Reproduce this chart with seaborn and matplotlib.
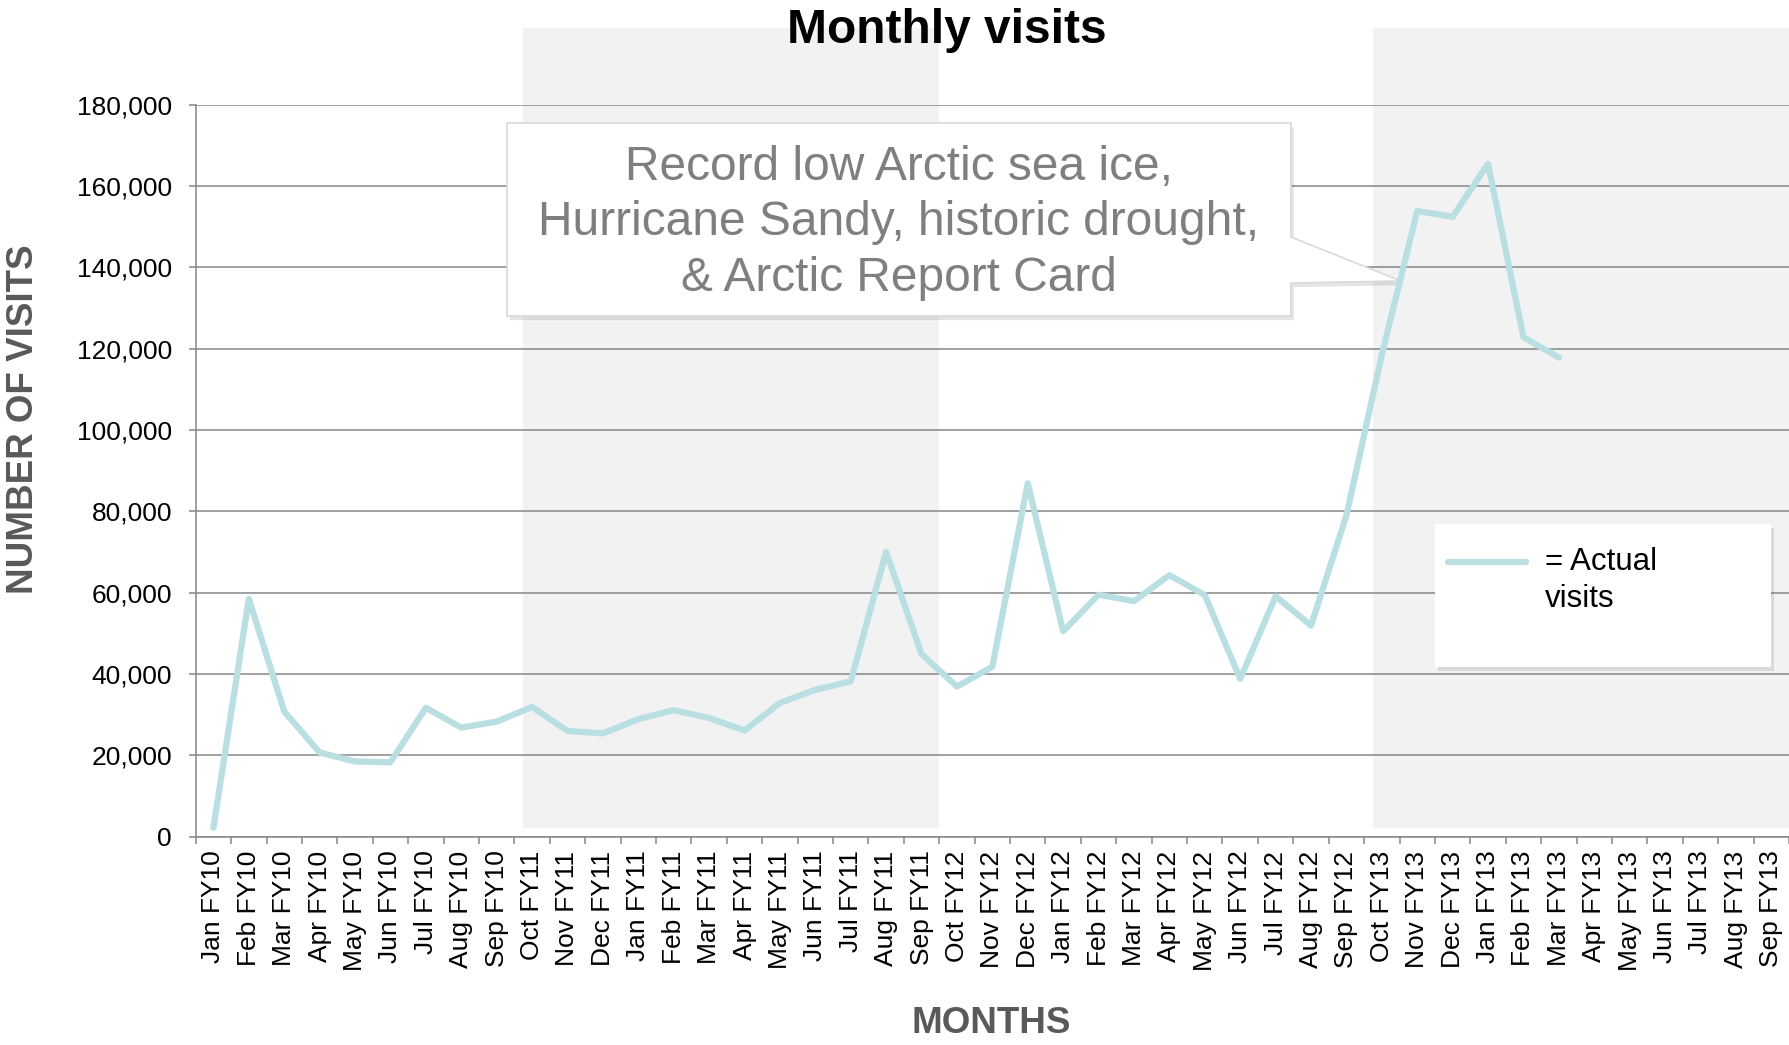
import numpy as np
import pandas as pd
import matplotlib.pyplot as plt
import seaborn as sns
from matplotlib import patheffects
from matplotlib.patches import Polygon, Rectangle
from matplotlib.transforms import blended_transform_factory
from matplotlib.ticker import FuncFormatter

# month labels on the x axis (FY runs Oct - Sep)
month_labels = [
    'Jan FY10', 'Feb FY10', 'Mar FY10', 'Apr FY10', 'May FY10', 'Jun FY10',
    'Jul FY10', 'Aug FY10', 'Sep FY10',
    'Oct FY11', 'Nov FY11', 'Dec FY11', 'Jan FY11', 'Feb FY11', 'Mar FY11',
    'Apr FY11', 'May FY11', 'Jun FY11', 'Jul FY11', 'Aug FY11', 'Sep FY11',
    'Oct FY12', 'Nov FY12', 'Dec FY12', 'Jan FY12', 'Feb FY12', 'Mar FY12',
    'Apr FY12', 'May FY12', 'Jun FY12', 'Jul FY12', 'Aug FY12', 'Sep FY12',
    'Oct FY13', 'Nov FY13', 'Dec FY13', 'Jan FY13', 'Feb FY13', 'Mar FY13',
    'Apr FY13', 'May FY13', 'Jun FY13', 'Jul FY13', 'Aug FY13', 'Sep FY13',
]

# actual monthly visits (Jan FY10 .. Mar FY13)
visits = [2200, 58500, 30800, 20700, 18500, 18300, 31700, 26800, 28300,
          31900, 26000, 25400, 28900, 31100, 29200, 26100, 32900, 36100,
          38200, 70000, 44900,
          36900, 41800, 86900, 50500, 59500, 57900, 64300, 59400, 38800,
          59100, 51900, 79000,
          118500, 153800, 152400, 165400, 122800, 117800]

y_ticks = [0, 20000, 40000, 60000, 80000, 100000, 120000, 140000, 160000, 180000]

df = pd.DataFrame({'idx': np.arange(len(visits)), 'visits': visits})

sns.set_style('white')
plt.rcParams['font.family'] = ['Liberation Sans', 'DejaVu Sans']

W, H = 1790, 1045
top_px, bot_px = 104.5, 836.7
fig = plt.figure(figsize=(W / 100, H / 100), dpi=100)
ax = fig.add_axes([195.7 / W, 1 - bot_px / H, 1593.3 / W, (bot_px - top_px) / H])

grid_col = '#868686'
line_col = '#b9dfe2'

# shaded fiscal years (FY11, FY13), reaching above the plot area
trans = blended_transform_factory(ax.transData, fig.transFigure)
for x0 in [8.75, 32.75]:
    ax.add_patch(Rectangle((x0, 1 - 827.7 / H), 11.75, (827.7 - 28) / H,
                           transform=trans, facecolor='#f2f2f2',
                           edgecolor='none', clip_on=False, zorder=0.1))

sns.lineplot(data=df, x='idx', y='visits', color=line_col, linewidth=4.5,
             ax=ax, label='= Actual\nvisits', zorder=3)

ax.set_xlim(-0.5, len(month_labels) - 0.5)
ax.set_ylim(0, 180000)
ax.set_yticks(y_ticks)
ax.yaxis.set_major_formatter(FuncFormatter(lambda v, p: f'{int(v):,}'))
ax.set_xticks(range(len(month_labels)))
ax.set_xticklabels(month_labels, rotation=90)
ax.set_xticks(np.arange(-0.5, len(month_labels), 1), minor=True)

ax.tick_params(axis='x', which='major', length=0, pad=10, labelsize=19,
               labelcolor='black')
ax.tick_params(axis='x', which='minor', length=5, width=1.1, color=grid_col,
               direction='out', bottom=True)
ax.tick_params(axis='y', length=5, width=1.1, color=grid_col, direction='out',
               left=True, pad=12, labelsize=19, labelcolor='black')

ax.set_axisbelow(True)
ax.yaxis.grid(True, color=grid_col, linewidth=1.1)
ax.xaxis.grid(False)
for s in ['top', 'right']:
    ax.spines[s].set_visible(False)
for s in ['left', 'bottom']:
    ax.spines[s].set_color(grid_col)
    ax.spines[s].set_linewidth(1.1)
ax.patch.set_alpha(0)

ax.set_xlabel('MONTHS', fontsize=26.5, fontweight='bold', color='#595959')
ax.xaxis.set_label_coords(0.4992, (bot_px - 1006) / (bot_px - top_px))
ax.set_ylabel('NUMBER OF VISITS', fontsize=26.5, fontweight='bold', color='#595959')
ax.yaxis.set_label_coords(-0.0971, (bot_px - 419.5) / (bot_px - top_px))

fig.suptitle('Monthly visits', x=947 / W, y=1 - 43.4 / H, va='baseline',
             ha='center', fontsize=34.5, fontweight='bold', color='black')


def axfrac(px, py):
    return ((px - 195.7) / 1593.3, (bot_px - py) / (bot_px - top_px))


# callout box with pointer
shadow = [patheffects.SimplePatchShadow(offset=(2, -3), shadow_rgbFace='black', alpha=0.1),
          patheffects.Normal()]
callout = Polygon([axfrac(507, 123), axfrac(1291, 123), axfrac(1291, 237),
                   axfrac(1401, 281), axfrac(1291, 283), axfrac(1291, 316),
                   axfrac(507, 316)], closed=True, transform=ax.transAxes,
                  facecolor='white', edgecolor='#d9d9d9', linewidth=1.2,
                  zorder=2.5, path_effects=shadow)
ax.add_patch(callout)
tx, ty = axfrac(899, 222.6)
ax.text(tx, ty,
        'Record low Arctic sea ice,\nHurricane Sandy, historic drought,\n& Arctic Report Card',
        transform=ax.transAxes, ha='center', va='center', multialignment='center',
        fontsize=34.5, color='#7f7f7f', linespacing=1.3, zorder=2.6)

# legend box
ax.add_patch(Rectangle((1435 / W, 1 - 667 / H), 336 / W, 143 / H,
                       transform=fig.transFigure, facecolor='white',
                       edgecolor='none', zorder=4, clip_on=False,
                       path_effects=shadow))
leg = ax.legend(loc='upper left', bbox_to_anchor=(1448 / W, 1 - 547 / H),
                bbox_transform=fig.transFigure, frameon=False, fontsize=22.5,
                handlelength=2.5, handletextpad=0.6, borderpad=0, borderaxespad=0,
                labelcolor='black')
leg.set_zorder(5)
leg.get_texts()[0].set_linespacing(1.3)
# put the line sample level with the first text line
hline = leg.legend_handles[0]
hline.set_ydata(np.asarray(hline.get_ydata()) + 13.5)

plt.savefig('out.png', dpi=100)
